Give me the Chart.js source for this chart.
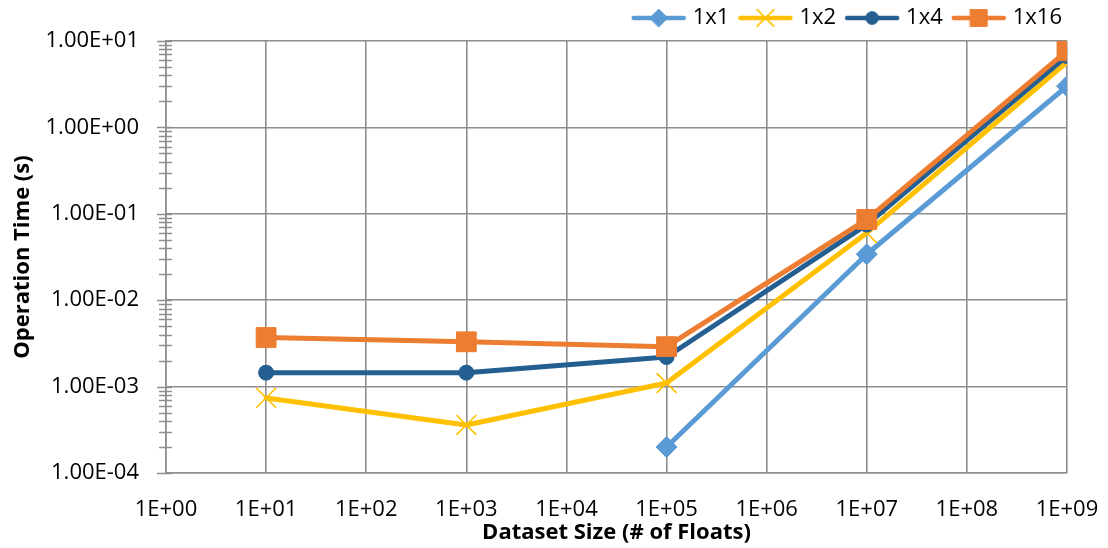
<!DOCTYPE html>
<html>
<head>
<meta charset="utf-8">
<script src="https://cdn.jsdelivr.net/npm/chart.js@4"></script>
<style>
  html, body { margin: 0; padding: 0; background: #fff; }
  #wrap { width: 1108px; height: 548px; }
</style>
</head>
<body>
<div id="wrap"><canvas id="c" width="1108" height="548"></canvas></div>
<script>
// Dataset sizes (number of floats) and operation times in seconds
const datasetSizes = [1e1, 1e3, 1e5, 1e7, 1e9];
const seriesNames = ['1x1', '1x2', '1x4', '1x16'];
const time1x1  = [null,    null,    2.0e-4,  3.4e-2, 3.0];
const time1x2  = [7.4e-4,  3.6e-4,  1.1e-3,  6.0e-2, 5.7];
const time1x4  = [1.45e-3, 1.45e-3, 2.2e-3,  7.5e-2, 6.7];
const time1x16 = [3.7e-3,  3.3e-3,  2.9e-3,  8.6e-2, 7.7];

const xTickValues = [1e0, 1e1, 1e2, 1e3, 1e4, 1e5, 1e6, 1e7, 1e8, 1e9];
const xTickLabels = ['1E+00', '1E+01', '1E+02', '1E+03', '1E+04', '1E+05', '1E+06', '1E+07', '1E+08', '1E+09'];
const yTickValues = [1e-4, 1e-3, 1e-2, 1e-1, 1e0, 1e1];
const yTickLabels = ['1.00E-04', '1.00E-03', '1.00E-02', '1.00E-01', '1.00E+00', '1.00E+01'];

const seriesValues = [time1x1, time1x2, time1x4, time1x16];
const seriesColors = ['#5B9BD5', '#FFC000', '#255E91', '#ED7D31'];
const seriesMarkers = [
  { pointStyle: 'rectRot',  radius: 10.5, borderWidth: 1 },
  { pointStyle: 'crossRot', radius: 14, borderWidth: 1.6 },
  { pointStyle: 'circle',   radius: 7.5, borderWidth: 1 },
  { pointStyle: 'rect',     radius: 14, borderWidth: 1 }
];

const GRID = '#8e8e8e';
const FONT = '"Open Sans", "Noto Sans", sans-serif';

// Legend swatches: a short line segment with the series marker in its middle
function legendSwatch(color, marker) {
  const cv = document.createElement('canvas');
  cv.width = 56; cv.height = 24;
  const g = cv.getContext('2d');
  g.strokeStyle = color;
  g.lineWidth = 4.5;
  g.lineCap = 'round';
  g.beginPath(); g.moveTo(3, 12); g.lineTo(53, 12); g.stroke();
  g.fillStyle = color;
  g.strokeStyle = color;
  g.lineWidth = marker.borderWidth;
  Chart.helpers.drawPoint(g, {
    pointStyle: marker.pointStyle,
    radius: marker.radius * 0.85,
    rotation: 0,
    borderWidth: marker.borderWidth
  }, 28, 12);
  return cv;
}
const legendImages = seriesColors.map((c, i) => legendSwatch(c, seriesMarkers[i]));

// Small tick marks along the value axis at every 1..9 step of each decade
const logTickMarks = {
  id: 'logTickMarks',
  afterDraw(chart) {
    const y = chart.scales.y;
    const left = chart.chartArea.left;
    const ctx = chart.ctx;
    ctx.save();
    ctx.strokeStyle = GRID;
    ctx.lineWidth = 1.5;
    for (let d = -4; d <= 1; d++) {
      for (let m = 1; m <= 9; m++) {
        const v = m * Math.pow(10, d);
        if (v > y.max * 1.0001) break;
        const py = Math.round(y.getPixelForValue(v)) + 0.5;
        const major = m === 1;
        ctx.beginPath();
        ctx.moveTo(left - (major ? 9 : 7), py);
        ctx.lineTo(left + 6, py);
        ctx.stroke();
      }
    }
    ctx.restore();
  }
};

// Nudge the legend block up into the top margin and toward the right edge
const legendNudge = {
  id: 'legendNudge',
  afterLayout(chart) {
    const lg = chart.legend;
    if (!lg) return;
    lg.top -= 2; lg.bottom -= 2;
    lg.left += 8; lg.right += 8;
  }
};

const datasets = seriesNames.map((name, i) => ({
  label: name,
  data: datasetSizes.map((x, j) => ({ x: x, y: seriesValues[i][j] })),
  borderColor: seriesColors[i],
  backgroundColor: seriesColors[i],
  pointBackgroundColor: seriesColors[i],
  pointBorderColor: seriesColors[i],
  borderWidth: 5,
  borderJoinStyle: 'round',
  borderCapStyle: 'round',
  pointStyle: seriesMarkers[i].pointStyle,
  pointRadius: seriesMarkers[i].radius,
  pointBorderWidth: seriesMarkers[i].borderWidth,
  order: seriesNames.length - i,
  spanGaps: false,
  tension: 0
}));

new Chart(document.getElementById('c'), {
  type: 'line',
  data: { datasets: datasets },
  plugins: [logTickMarks, legendNudge],
  options: {
    responsive: false,
    animation: false,
    devicePixelRatio: 1,
    layout: { padding: { left: 8, right: 41, top: -4, bottom: 2 } },
    plugins: {
      tooltip: { enabled: false },
      legend: {
        position: 'top',
        align: 'end',
        labels: {
          usePointStyle: true,
          pointStyleWidth: 46,
          padding: 13,
          color: '#000',
          font: { family: FONT, size: 22 },
          sort: (a, b) => a.datasetIndex - b.datasetIndex,
          generateLabels(chart) {
            const items = Chart.defaults.plugins.legend.labels.generateLabels(chart);
            items.forEach(it => { it.pointStyle = legendImages[it.datasetIndex]; it.rotation = 0; });
            return items;
          }
        }
      }
    },
    scales: {
      x: {
        type: 'logarithmic',
        min: 1,
        max: 1e9,
        afterBuildTicks(scale) { scale.ticks = xTickValues.map(v => ({ value: v })); },
        afterFit(scale) { scale.height = 73; scale.paddingLeft = 0; scale.paddingRight = 0; },
        ticks: {
          autoSkip: false,
          maxRotation: 0,
          padding: 24,
          color: '#000',
          font: { family: FONT, size: 22 },
          callback: (v, i) => xTickLabels[i]
        },
        grid: { color: GRID, lineWidth: 1.6, drawTicks: false },
        border: { color: GRID, width: 1.6 },
        title: {
          display: true,
          text: 'Dataset Size (# of Floats)',
          color: '#000',
          font: { family: FONT, size: 22, weight: 'bold' },
          padding: { top: 2, bottom: 0 }
        }
      },
      y: {
        type: 'logarithmic',
        min: 1e-4,
        max: 1e1,
        afterBuildTicks(scale) { scale.ticks = yTickValues.map(v => ({ value: v })); },
        afterFit(scale) { scale.width = 158; },
        ticks: {
          autoSkip: false,
          padding: 27,
          color: '#000',
          font: { family: FONT, size: 22 },
          callback: (v, i) => yTickLabels[i]
        },
        grid: { color: GRID, lineWidth: 1.6, drawTicks: false },
        border: { color: GRID, width: 1.6 },
        title: {
          display: true,
          text: 'Operation Time (s)',
          color: '#000',
          font: { family: FONT, size: 22, weight: 'bold' },
          padding: { top: 2, bottom: 0 }
        }
      }
    }
  }
});
</script>
</body>
</html>
